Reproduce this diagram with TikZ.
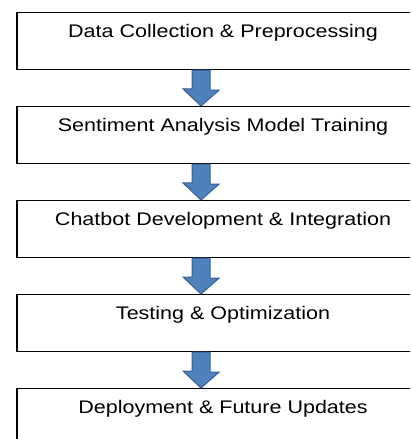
\documentclass[tikz,border=0pt]{standalone}
\usepackage{fontspec}
\setmainfont{Liberation Sans}[FakeStretch=1.18]
\usetikzlibrary{calc}
\tikzset{
  stagebox/.style={draw=black, line width=1.2bp, rectangle, minimum width=412bp,
    inner xsep=0pt, inner ysep=0pt, text height=25bp, text depth=32bp, anchor=north,
    font=\fontsize{18.3}{20}\selectfont},
  blockarr/.style={fill=arrfill, draw=arrline, line width=1bp, line join=miter}
}
\definecolor{arrfill}{HTML}{4F81BD}
\definecolor{arrline}{HTML}{3A5F8F}
\newcommand\blockarrow[2]{%
  \draw[blockarr] ($(#1.south)+(-31bp,0)$) -- ++(18,0) -- ++(0,20) -- ++(9,0)
    -- ($(#2.north)+(-22bp,0)$) -- ++(-18,-17) -- ++(9,0) -- cycle;}
\begin{document}
\begin{tikzpicture}[x=1bp, y=-1bp]
\useasboundingbox (0,0) rectangle (410,439);
\clip (0,0) rectangle (410,439);
\fill[white] (0,0) rectangle (410,439);
\node[stagebox] (b1) at (223,12) {Data Collection \& Preprocessing};
\node[stagebox] (b2) at (223,106) {Sentiment Analysis Model Training};
\node[stagebox] (b3) at (223,200) {Chatbot Development \& Integration};
\node[stagebox] (b4) at (223,294) {Testing \& Optimization};
\node[stagebox] (b5) at (223,388) {Deployment \& Future Updates};
\blockarrow{b1}{b2}
\blockarrow{b2}{b3}
\blockarrow{b3}{b4}
\blockarrow{b4}{b5}
\end{tikzpicture}
\end{document}
